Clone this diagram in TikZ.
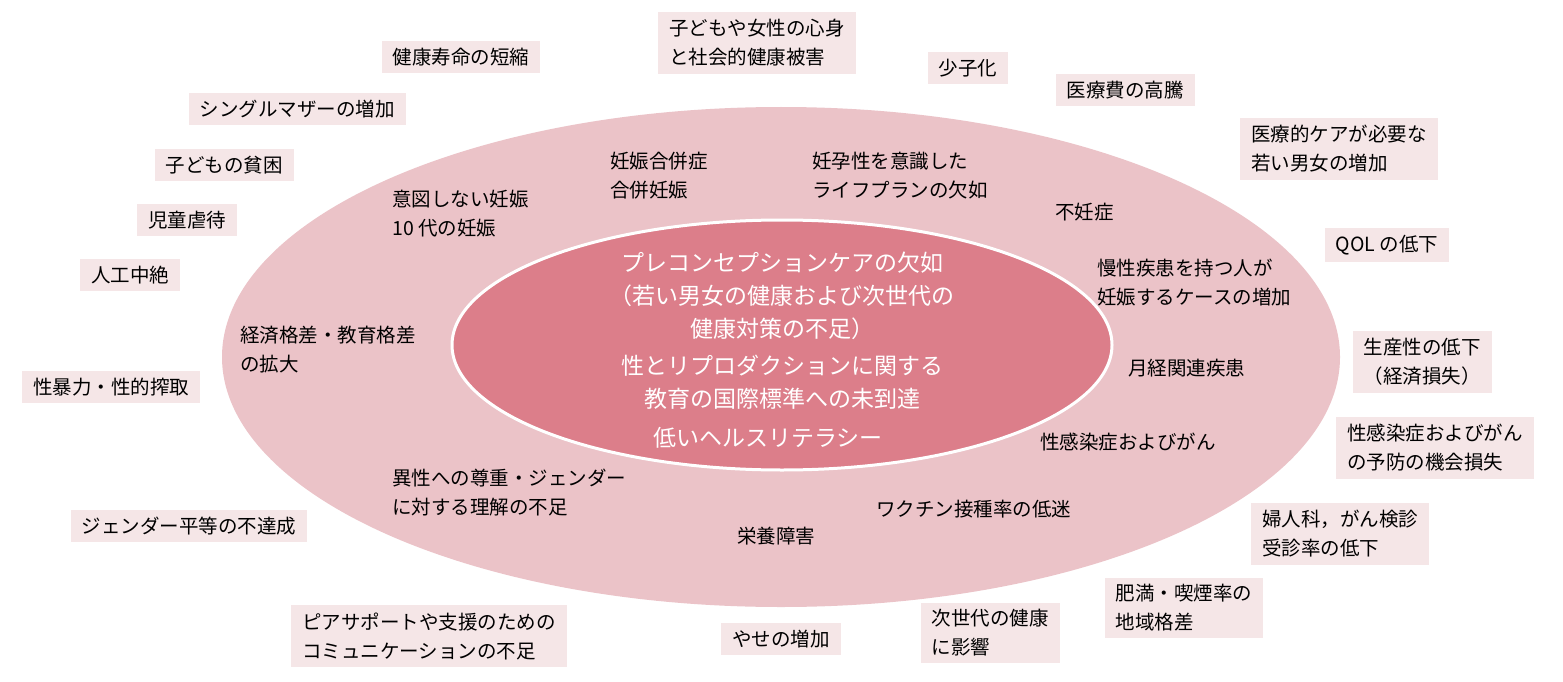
\documentclass[tikz,border=0pt]{standalone}
\usepackage{fontspec}
\setmainfont{Noto Sans CJK JP}
\definecolor{boxc}{HTML}{F5E6E7}
\definecolor{outc}{HTML}{EBC3C8}
\definecolor{inc}{HTML}{DC7E8A}
\begin{document}
\begin{tikzpicture}[x=1pt,y=-1pt,
  ob/.style={fill=boxc,align=left,inner xsep=11pt,inner ysep=7pt,font=\fontsize{19.5}{29}\selectfont},
  it/.style={align=left,inner sep=0pt,font=\fontsize{19.5}{29}\selectfont,anchor=west},
  ct/.style={align=center,inner sep=0pt,text=white,font=\fontsize{23}{33}\selectfont}]
\useasboundingbox (0,0) rectangle (1563,682);
\fill[outc] (781,357) ellipse [x radius=559, y radius=250];
\draw[white,line width=3pt,fill=inc] (782,345) ellipse [x radius=330, y radius=125];
% inner text
\node[ct] (c1) at (782,296) {プレコンセプションケアの欠如\\（若い男女の健康および次世代の\\健康対策の不足）};
\node[ct] (c2) at (782,382) {性とリプロダクションに関する\\教育の国際標準への未到達};
\node[ct] (c3) at (768,438) {低いヘルスリテラシー};
% ellipse items
\node[it] (e1) at (610,176) {妊娠合併症\\合併妊娠};
\node[it] (e2) at (812,176) {妊孕性を意識した\\ライフプランの欠如};
\node[it] (e3) at (392,214) {意図しない妊娠\\10 代の妊娠};
\node[it] (e4) at (1055,212) {不妊症};
\node[it] (e5) at (1097,283) {慢性疾患を持つ人が\\妊娠するケースの増加};
\node[it] (e6) at (240,350) {経済格差・教育格差\\の拡大};
\node[it] (e7) at (1128,368) {月経関連疾患};
\node[it] (e8) at (1040,442) {性感染症およびがん};
\node[it] (e9) at (392,493) {異性への尊重・ジェンダー\\に対する理解の不足};
\node[it] (e10) at (876,509) {ワクチン接種率の低迷};
\node[it] (e11) at (737,536) {栄養障害};
% outer boxes
\node[ob] (b1) at (461,57) {健康寿命の短縮};
\node[ob] (b2) at (757,43) {子どもや女性の心身\\と社会的健康被害};
\node[ob] (b3) at (968,68) {少子化};
\node[ob] (b4) at (1125,90) {医療費の高騰};
\node[ob] (b5) at (1339,149) {医療的ケアが必要な\\若い男女の増加};
\node[ob] (b6) at (1387,245) {QOL の低下};
\node[ob] (b7) at (1422,362) {生産性の低下\\（経済損失）};
\node[ob] (b8) at (1435,448) {性感染症およびがん\\の予防の機会損失};
\node[ob] (b9) at (1340,534) {婦人科，がん検診\\受診率の低下};
\node[ob] (b10) at (1184,608) {肥満・喫煙率の\\地域格差};
\node[ob] (b11) at (990,633) {次世代の健康\\に影響};
\node[ob] (b12) at (781,639) {やせの増加};
\node[ob] (b13) at (429,636) {ピアサポートや支援のための\\コミュニケーションの不足};
\node[ob] (b14) at (189,526) {ジェンダー平等の不達成};
\node[ob] (b15) at (111,387) {性暴力・性的搾取};
\node[ob] (b16) at (130,275) {人工中絶};
\node[ob] (b17) at (187,220) {児童虐待};
\node[ob] (b18) at (224,165) {子どもの貧困};
\node[ob] (b19) at (297,109) {シングルマザーの増加};
\end{tikzpicture}
\end{document}
